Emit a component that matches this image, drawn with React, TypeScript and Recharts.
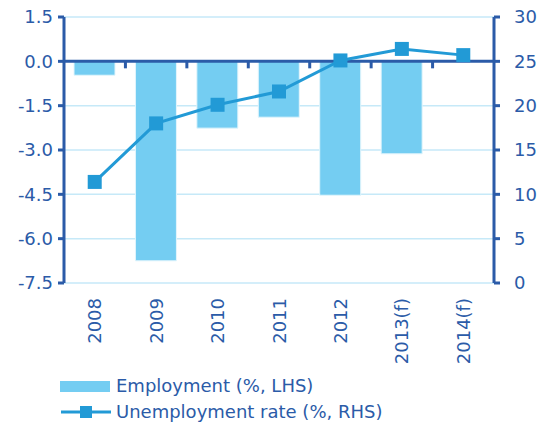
import {
  Bar,
  CartesianGrid,
  ComposedChart,
  Legend,
  Line,
  ReferenceLine,
  XAxis,
  YAxis,
} from 'recharts';

const years = ['2008', '2009', '2010', '2011', '2012', '2013(f)', '2014(f)'];
const employment = [-0.47, -6.75, -2.26, -1.89, -4.53, -3.13, null];
const unemployment = [11.4, 18.0, 20.1, 21.6, 25.1, 26.4, 25.7];
const leftTicks = [-7.5, -6, -4.5, -3, -1.5, 0, 1.5];
const rightTicks = [0, 5, 10, 15, 20, 25, 30];

const data = years.map((year, i) => ({
  year,
  employment: employment[i],
  unemployment: unemployment[i],
}));

const axisColor = '#2B5BA8';
const barColor = '#74CDF2';
const lineColor = '#229AD6';
const gridColor = '#C6E9F8';
const font = '"DejaVu Sans", Verdana, sans-serif';

function YearTick({ x, y, payload }: any) {
  return (
    <text
      x={x}
      y={y}
      transform={`rotate(-90, ${x}, ${y})`}
      textAnchor="end"
      dominantBaseline="central"
      fill={axisColor}
      fontSize={18}
      fontFamily={font}
    >
      {payload.value}
    </text>
  );
}

function SquareDot({ cx, cy, index }: any) {
  if (cx == null || cy == null) return null;
  return <rect key={index} x={cx - 7} y={cy - 7} width={14} height={14} fill={lineColor} />;
}

// zero line with small category ticks hanging below it
function ZeroLine({ x1, y1, x2 }: any) {
  const n = years.length;
  const step = (x2 - x1) / n;
  const ticks = [];
  for (let i = 1; i < n; i++) {
    const tx = x1 + step * i;
    ticks.push(<line key={i} x1={tx} x2={tx} y1={y1} y2={y1 + 7} stroke={axisColor} strokeWidth={3} />);
  }
  return (
    <g>
      <line x1={x1} x2={x2} y1={y1} y2={y1} stroke={axisColor} strokeWidth={3} />
      {ticks}
    </g>
  );
}

function ChartLegend() {
  const textStyle = { color: axisColor, fontSize: 18, fontFamily: font, lineHeight: '26px' };
  return (
    <div style={{ display: 'flex', flexDirection: 'column' }}>
      <div style={{ display: 'flex', alignItems: 'center' }}>
        <div style={{ width: 50, height: 11, background: barColor, marginRight: 6 }} />
        <span style={textStyle}>Employment (%, LHS)</span>
      </div>
      <div style={{ display: 'flex', alignItems: 'center' }}>
        <svg width={52} height={14} style={{ marginRight: 4 }}>
          <line x1={1} x2={51} y1={7} y2={7} stroke={lineColor} strokeWidth={3} />
          <rect x={20} y={1} width={12} height={12} fill={lineColor} />
        </svg>
        <span style={textStyle}>Unemployment rate (%, RHS)</span>
      </div>
    </div>
  );
}

export default function App() {
  return (
    <div style={{ position: 'absolute', left: 0, top: 0, background: '#fff' }}>
      <ComposedChart
        width={542}
        height={428}
        data={data}
        margin={{ top: 17, right: 0, left: 0, bottom: 0 }}
      >
        <CartesianGrid yAxisId="left" vertical={false} stroke={gridColor} strokeWidth={1.5} />
        <XAxis
          dataKey="year"
          height={145}
          axisLine={false}
          tickLine={false}
          tickMargin={9}
          interval={0}
          tick={<YearTick />}
        />
        <YAxis
          yAxisId="left"
          width={64}
          domain={[-7.5, 1.5]}
          ticks={leftTicks}
          interval={0}
          tickFormatter={(v: number) => v.toFixed(1)}
          axisLine={{ stroke: axisColor, strokeWidth: 3 }}
          tickLine={{ stroke: axisColor, strokeWidth: 3 }}
          tickSize={6}
          tickMargin={5}
          tick={{ fill: axisColor, fontSize: 18, fontFamily: font }}
        />
        <YAxis
          yAxisId="right"
          orientation="right"
          width={48}
          domain={[0, 30]}
          ticks={rightTicks}
          interval={0}
          axisLine={{ stroke: axisColor, strokeWidth: 3 }}
          tickLine={{ stroke: axisColor, strokeWidth: 3 }}
          tickSize={6}
          tickMargin={14}
          tick={{ fill: axisColor, fontSize: 18, fontFamily: font, textAnchor: 'start' }}
        />
        <Legend
          layout="horizontal"
          verticalAlign="middle"
          align="center"
          wrapperStyle={{ top: 373, left: 60, width: 'auto' }}
          content={<ChartLegend />}
        />
        <Bar
          yAxisId="left"
          dataKey="employment"
          name="Employment (%, LHS)"
          fill={barColor}
          stroke="#E3F5FC"
          strokeWidth={1}
          barSize={41}
          isAnimationActive={false}
        />
        <ReferenceLine yAxisId="left" y={0} shape={<ZeroLine />} />
        <Line
          yAxisId="right"
          type="linear"
          dataKey="unemployment"
          name="Unemployment rate (%, RHS)"
          stroke={lineColor}
          strokeWidth={3}
          dot={<SquareDot />}
          activeDot={false}
          isAnimationActive={false}
        />
      </ComposedChart>
    </div>
  );
}
